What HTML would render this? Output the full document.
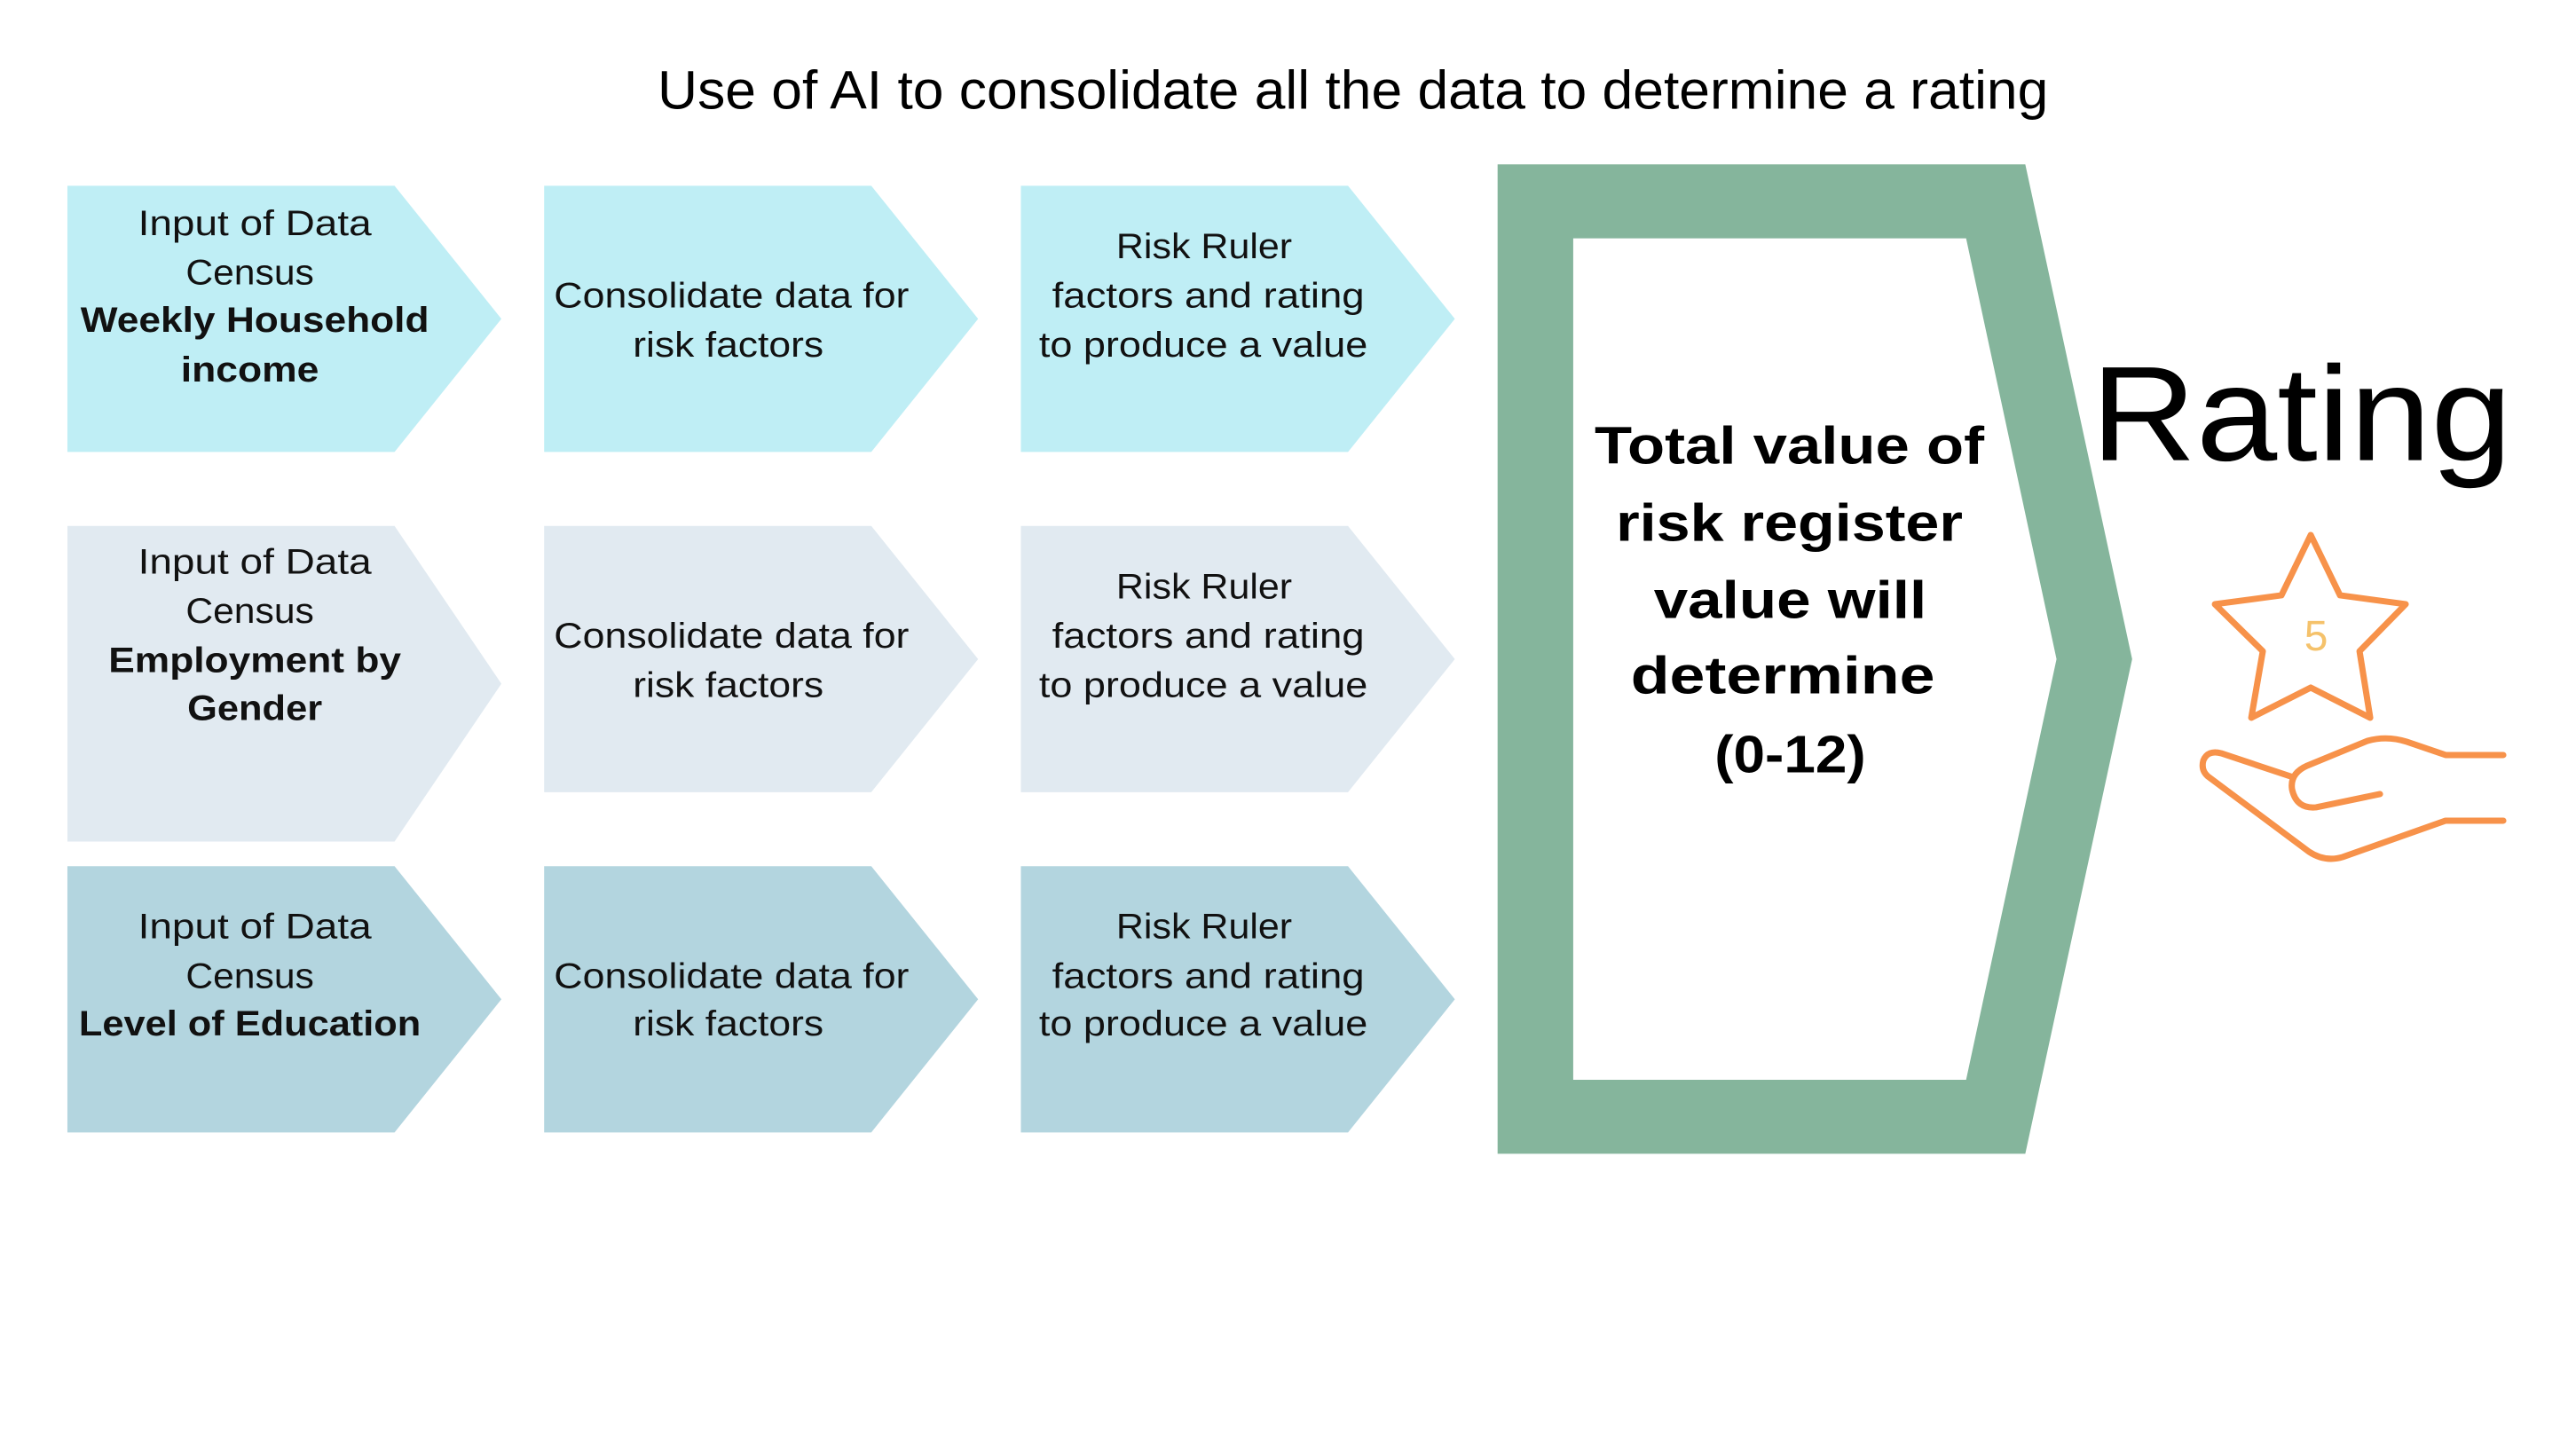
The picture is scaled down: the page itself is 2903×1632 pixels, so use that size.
<!DOCTYPE html>
<html><head><meta charset="utf-8"><style>
html,body{margin:0;padding:0;background:#fff;}
svg{display:block;}
text{font-family:"Liberation Sans",sans-serif;}
</style></head><body>
<svg width="2903" height="1632" viewBox="0 0 1567 881" preserveAspectRatio="none">
<rect width="1567" height="881" fill="#fff"/>
<text x="400" y="66" font-size="33" textLength="846" lengthAdjust="spacingAndGlyphs" fill="#000">Use of AI to consolidate all the data to determine a rating</text>

<g>
<polygon points="41,113 240,113 305,194 240,275 41,275" fill="#bfeef5"/>
<polygon points="331,113 530,113 595,194 530,275 331,275" fill="#bfeef5"/>
<polygon points="621,113 820,113 885,194 820,275 621,275" fill="#bfeef5"/>
<g font-size="21.5" fill="#111">
<text x="84" y="143" textLength="142" lengthAdjust="spacingAndGlyphs">Input of Data</text>
<text x="113" y="173" textLength="78" lengthAdjust="spacingAndGlyphs">Census</text>
<text x="49" y="202" textLength="212" lengthAdjust="spacingAndGlyphs" font-weight="bold">Weekly Household</text>
<text x="110" y="232" textLength="84" lengthAdjust="spacingAndGlyphs" font-weight="bold">income</text>
<text x="337" y="187" textLength="216" lengthAdjust="spacingAndGlyphs">Consolidate data for</text>
<text x="385" y="217" textLength="116" lengthAdjust="spacingAndGlyphs">risk factors</text>
<text x="679" y="157" textLength="107" lengthAdjust="spacingAndGlyphs">Risk Ruler</text>
<text x="640" y="187" textLength="190" lengthAdjust="spacingAndGlyphs">factors and rating</text>
<text x="632" y="217" textLength="200" lengthAdjust="spacingAndGlyphs">to produce a value</text>
</g></g>

<g>
<polygon points="41,320 240,320 305,416 240,512 41,512" fill="#e1eaf1"/>
<polygon points="331,320 530,320 595,401 530,482 331,482" fill="#e1eaf1"/>
<polygon points="621,320 820,320 885,401 820,482 621,482" fill="#e1eaf1"/>
<g font-size="21.5" fill="#111">
<text x="84" y="349" textLength="142" lengthAdjust="spacingAndGlyphs">Input of Data</text>
<text x="113" y="379" textLength="78" lengthAdjust="spacingAndGlyphs">Census</text>
<text x="66" y="409" textLength="178" lengthAdjust="spacingAndGlyphs" font-weight="bold">Employment by</text>
<text x="114" y="438" textLength="82" lengthAdjust="spacingAndGlyphs" font-weight="bold">Gender</text>
<text x="337" y="394" textLength="216" lengthAdjust="spacingAndGlyphs">Consolidate data for</text>
<text x="385" y="424" textLength="116" lengthAdjust="spacingAndGlyphs">risk factors</text>
<text x="679" y="364" textLength="107" lengthAdjust="spacingAndGlyphs">Risk Ruler</text>
<text x="640" y="394" textLength="190" lengthAdjust="spacingAndGlyphs">factors and rating</text>
<text x="632" y="424" textLength="200" lengthAdjust="spacingAndGlyphs">to produce a value</text>
</g></g>

<g>
<polygon points="41,527 240,527 305,608 240,689 41,689" fill="#b3d5df"/>
<polygon points="331,527 530,527 595,608 530,689 331,689" fill="#b3d5df"/>
<polygon points="621,527 820,527 885,608 820,689 621,689" fill="#b3d5df"/>
<g font-size="21.5" fill="#111">
<text x="84" y="571" textLength="142" lengthAdjust="spacingAndGlyphs">Input of Data</text>
<text x="113" y="601" textLength="78" lengthAdjust="spacingAndGlyphs">Census</text>
<text x="48" y="630" textLength="208" lengthAdjust="spacingAndGlyphs" font-weight="bold">Level of Education</text>
<text x="337" y="601" textLength="216" lengthAdjust="spacingAndGlyphs">Consolidate data for</text>
<text x="385" y="630" textLength="116" lengthAdjust="spacingAndGlyphs">risk factors</text>
<text x="679" y="571" textLength="107" lengthAdjust="spacingAndGlyphs">Risk Ruler</text>
<text x="640" y="601" textLength="190" lengthAdjust="spacingAndGlyphs">factors and rating</text>
<text x="632" y="630" textLength="200" lengthAdjust="spacingAndGlyphs">to produce a value</text>
</g></g>

<g>
<path d="M911,100 L1232,100 L1297,401 L1232,702 L911,702 Z M957,145 L957,657 L1196,657 L1251,401 L1196,145 Z" fill="#85b59c" fill-rule="evenodd"/>
<g font-size="32" font-weight="bold" fill="#000">
<text x="970" y="282" textLength="237" lengthAdjust="spacingAndGlyphs">Total value of</text>
<text x="983" y="329" textLength="211" lengthAdjust="spacingAndGlyphs">risk register</text>
<text x="1006" y="376" textLength="166" lengthAdjust="spacingAndGlyphs">value will</text>
<text x="992" y="422" textLength="185" lengthAdjust="spacingAndGlyphs">determine</text>
<text x="1043" y="470" textLength="92" lengthAdjust="spacingAndGlyphs">(0-12)</text>
</g></g>

<text x="1272" y="280" font-size="82" textLength="256" lengthAdjust="spacingAndGlyphs" fill="#000">Rating</text>

<g transform="scale(0.5398)" fill="none" stroke="#f7924a" stroke-width="7" stroke-linejoin="round" stroke-linecap="round">
<polygon points="2604,603 2637,671 2711,681 2659,734 2671,809 2604,775 2537,809 2550,734 2496,681 2571,671"/>
<path d="M2821,851 L2756,851 L2712,836 Q2690,829 2668,835 L2600,863 Q2580,872 2583,890 Q2588,912 2610,910 L2682,895"/>
<path d="M2584,876 L2503,849 Q2488,845 2483,857 Q2480,868 2488,875 L2602,960 Q2620,972 2640,966 L2756,925 L2821,925"/>
<text x="2610" y="733" font-size="48" fill="#f5c26b" stroke="none" text-anchor="middle">5</text>
</g>
</svg>
</body></html>
